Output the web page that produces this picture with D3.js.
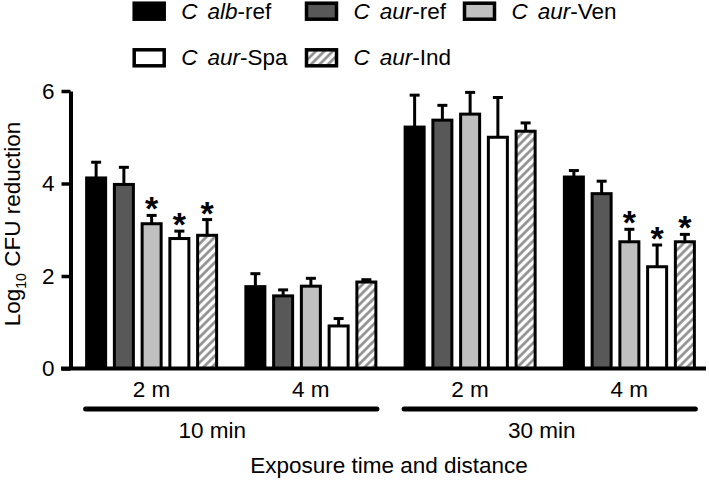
<!DOCTYPE html>
<html>
<head>
<meta charset="utf-8">
<script src="https://cdn.jsdelivr.net/npm/d3@7/dist/d3.min.js"></script>
<style>
  body { margin: 0; background: #fff; }
  svg { font-family: "Liberation Sans", Arial, sans-serif; }
</style>
</head>
<body>
<div id="chart"></div>
<script>
// groups on the x axis (distance within exposure time)
let groups = ['10-2', '10-4', '30-2', '30-4'];
let distLabels = ['2 m', '4 m', '2 m', '4 m'];
let timeLabels = ['10 min', '30 min'];
let strains = ['alb-ref', 'aur-ref', 'aur-Ven', 'aur-Spa', 'aur-Ind'];

// mean log10 CFU reduction per strain, one entry per group
let albRef = [4.12, 1.77, 5.22, 4.14];
let aurRef = [3.98, 1.57, 5.37, 3.78];
let aurVen = [3.13, 1.78, 5.50, 2.74];
let aurSpa = [2.81, 0.92, 5.00, 2.20];
let aurInd = [2.88, 1.87, 5.13, 2.74];

// upper error (SD)
let albRefErr = [0.34, 0.28, 0.69, 0.14];
let aurRefErr = [0.37, 0.13, 0.32, 0.27];
let aurVenErr = [0.18, 0.17, 0.47, 0.27];
let aurSpaErr = [0.16, 0.16, 0.86, 0.47];
let aurIndErr = [0.34, 0.05, 0.18, 0.16];

// significance stars
let albRefSig = [0, 0, 0, 0];
let aurRefSig = [0, 0, 0, 0];
let aurVenSig = [1, 0, 0, 1];
let aurSpaSig = [1, 0, 0, 1];
let aurIndSig = [1, 0, 0, 1];

let yTicks = [0, 2, 4, 6];

let values = [albRef, aurRef, aurVen, aurSpa, aurInd];
let errors = [albRefErr, aurRefErr, aurVenErr, aurSpaErr, aurIndErr];
let sigs = [albRefSig, aurRefSig, aurVenSig, aurSpaSig, aurIndSig];
let fills = ['#000000', '#585858', '#c0c0c0', '#ffffff', 'url(#hatch)'];

let data = [];
groups.forEach(function (g, gi) {
    strains.forEach(function (s, si) {
        data.push({ group: g, strain: s, value: values[si][gi], err: errors[si][gi], sig: sigs[si][gi], fill: fills[si] });
    });
});

let width = 709, height = 480;
let fs = '22.5px';

let svg = d3.select('#chart')
    .append('svg')
    .attr('width', width)
    .attr('height', height);

let defs = svg.append('defs');
let pat = defs.append('pattern')
    .attr('id', 'hatch')
    .attr('patternUnits', 'userSpaceOnUse')
    .attr('width', 6)
    .attr('height', 6)
    .attr('patternTransform', 'rotate(45)');
pat.append('rect').attr('width', 6).attr('height', 6).attr('fill', '#fff');
pat.append('line')
    .attr('x1', 1.5).attr('y1', 0).attr('x2', 1.5).attr('y2', 6)
    .attr('stroke', '#8c8c8c')
    .attr('stroke-width', 2.6);

let y = d3.scaleLinear().domain([0, 6]).range([368.5, 91]);

let x0 = d3.scaleBand().domain(groups).range([72, 709]);
let x1 = d3.scaleBand().domain(strains)
    .range([0, x0.bandwidth()])
    .paddingInner(0.315)
    .paddingOuter(0.527);

// y axis
let yAxis = svg.append('g')
    .attr('transform', 'translate(70.5,0)')
    .call(d3.axisLeft(y).tickValues(yTicks).tickFormat(d3.format('d'))
        .tickSize(9).tickSizeOuter(0).tickPadding(7));
yAxis.select('.domain').attr('stroke-width', 4);
yAxis.selectAll('.tick line').attr('stroke-width', 3.5);
yAxis.selectAll('.tick text')
    .attr('font-size', fs)
    .attr('font-family', '"Liberation Sans", Arial, sans-serif')
    .attr('fill', '#000');

// bars
let bars = svg.append('g');
bars.selectAll('rect')
    .data(data)
    .enter()
    .append('rect')
    .attr('x', function (d) { return x0(d.group) + x1(d.strain); })
    .attr('y', function (d) { return y(d.value); })
    .attr('width', x1.bandwidth())
    .attr('height', function (d) { return y(0) - y(d.value); })
    .attr('fill', function (d) { return d.fill; })
    .attr('stroke', '#000')
    .attr('stroke-width', 3);

// error bars
let errG = svg.append('g').attr('stroke', '#000').attr('stroke-width', 3);
errG.selectAll('line.v')
    .data(data)
    .enter()
    .append('line')
    .attr('class', 'v')
    .attr('x1', function (d) { return x0(d.group) + x1(d.strain) + x1.bandwidth() / 2; })
    .attr('x2', function (d) { return x0(d.group) + x1(d.strain) + x1.bandwidth() / 2; })
    .attr('y1', function (d) { return y(d.value); })
    .attr('y2', function (d) { return y(d.value + d.err); });
errG.selectAll('line.cap')
    .data(data)
    .enter()
    .append('line')
    .attr('class', 'cap')
    .attr('x1', function (d) { return x0(d.group) + x1(d.strain) + x1.bandwidth() / 2 - 5; })
    .attr('x2', function (d) { return x0(d.group) + x1(d.strain) + x1.bandwidth() / 2 + 5; })
    .attr('y1', function (d) { return y(d.value + d.err); })
    .attr('y2', function (d) { return y(d.value + d.err); });

// asterisks
svg.append('g').selectAll('text')
    .data(data.filter(function (d) { return d.sig; }))
    .enter()
    .append('text')
    .attr('x', function (d) { return x0(d.group) + x1(d.strain) + x1.bandwidth() / 2; })
    .attr('y', function (d) { return y(d.value + d.err) + 5; })
    .attr('text-anchor', 'middle')
    .attr('font-size', '34px')
    .attr('font-weight', 'bold')
    .text('*');

// x axis line
svg.append('line')
    .attr('x1', 61).attr('x2', 706)
    .attr('y1', y(0)).attr('y2', y(0))
    .attr('stroke', '#000')
    .attr('stroke-width', 4);

// distance labels
svg.append('g').selectAll('text')
    .data(groups)
    .enter()
    .append('text')
    .attr('x', function (d) { return x0(d) + x0.bandwidth() / 2; })
    .attr('y', 397)
    .attr('text-anchor', 'middle')
    .attr('font-size', fs)
    .text(function (d, i) { return distLabels[i]; });

// time brackets
let pairs = [[groups[0], groups[1]], [groups[2], groups[3]]];
let minShift = [-19, -8];
let brG = svg.append('g');
pairs.forEach(function (p, i) {
    let xa = x0(p[0]) + x1(strains[0]) - 1;
    let xb = x0(p[1]) + x1(strains[4]) + x1.bandwidth() + 1;
    brG.append('line')
        .attr('x1', xa).attr('x2', xb)
        .attr('y1', 409).attr('y2', 409)
        .attr('stroke', '#000')
        .attr('stroke-width', 5)
        .attr('stroke-linecap', 'round');
    brG.append('text')
        .attr('x', (xa + xb) / 2 + minShift[i])
        .attr('y', 438)
        .attr('text-anchor', 'middle')
        .attr('font-size', fs)
        .text(timeLabels[i]);
});

// axis titles
svg.append('text')
    .attr('x', 389)
    .attr('y', 473)
    .attr('text-anchor', 'middle')
    .attr('font-size', fs)
    .text('Exposure time and distance');

let yTitle = svg.append('text')
    .attr('transform', 'translate(20,224) rotate(-90)')
    .attr('text-anchor', 'middle')
    .attr('font-size', fs);
yTitle.append('tspan').text('Log');
yTitle.append('tspan').attr('font-size', '14px').attr('dy', 6).text('10');
yTitle.append('tspan').attr('dy', -6).text(' CFU reduction');

// legend
let legX = [134.2, 306.5, 464.5];
let legY = [3.2, 49.8];
let leg = svg.append('g');
strains.forEach(function (s, i) {
    let col = i < 3 ? i : i - 3;
    let row = i < 3 ? 0 : 1;
    let lx = legX[col], ly = legY[row];
    leg.append('rect')
        .attr('x', lx).attr('y', ly)
        .attr('width', 30).attr('height', 16)
        .attr('fill', fills[i])
        .attr('stroke', '#000')
        .attr('stroke-width', 3.5);
    let parts = s.split('-');
    let t = leg.append('text')
        .attr('x', lx + 47)
        .attr('y', ly + 15.5)
        .attr('font-size', fs);
    t.append('tspan').attr('font-style', 'italic').text('C');
    t.append('tspan').attr('font-style', 'italic').attr('dx', 10).text(parts[0]);
    t.append('tspan').text('-' + parts[1]);
});
</script>
</body>
</html>
